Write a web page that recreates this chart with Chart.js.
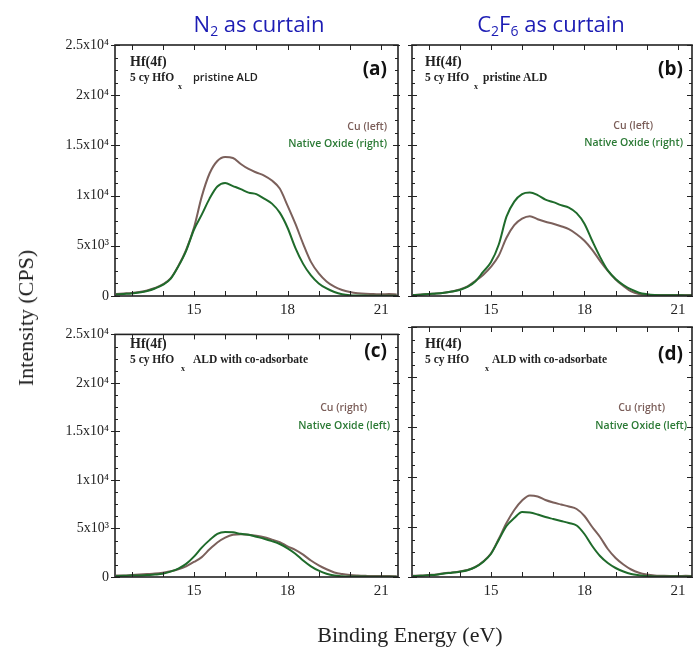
<!DOCTYPE html>
<html>
<head>
<meta charset="utf-8">
<script src="https://cdn.jsdelivr.net/npm/chart.js@4.4.1/dist/chart.umd.min.js"></script>
<style>
  body { margin: 0; background: #fff; }
  #wrap { position: relative; width: 693px; height: 647px; overflow: hidden; background: #fff; }
  canvas { position: absolute; }
  .t { position: absolute; white-space: nowrap; line-height: 1; }
  .head { font-family: "Open Sans", sans-serif; font-size: 22px; color: #1c1cb4; transform: translate(-50%, -50%); }
  .head sub { font-size: 14px; vertical-align: -4px; }
  .hf { font-family: "Liberation Serif", serif; font-weight: bold; font-size: 14px; color: #222; }
  .cy { font-family: "Liberation Serif", serif; font-weight: bold; font-size: 11.5px; color: #222; }
  .sx { font-family: "Liberation Serif", serif; font-weight: bold; font-size: 8px; color: #222; }
  .san { font-family: "Open Sans", sans-serif; font-weight: 600; font-size: 11px; color: #222; }
  .tag { font-family: "Open Sans", sans-serif; font-weight: bold; font-size: 19px; color: #111; }
  .cu { font-family: "Open Sans", sans-serif; font-weight: 600; font-size: 10.5px; color: #7b5e59; }
  .ox { font-family: "Open Sans", sans-serif; font-weight: 600; font-size: 10.5px; color: #2b7a35; }
  .axt { font-family: "Liberation Serif", serif; font-size: 22px; color: #222; }
</style>
</head>
<body>
<div id="wrap">
  <canvas id="pa" width="400" height="320" style="left:0;top:0"></canvas>
  <canvas id="pb" width="293" height="320" style="left:400px;top:0"></canvas>
  <canvas id="pc" width="400" height="327" style="left:0;top:320px"></canvas>
  <canvas id="pd" width="293" height="327" style="left:400px;top:320px"></canvas>

  <div class="t head" style="left:259px;top:25px">N<sub>2</sub> as curtain</div>
  <div class="t head" style="left:551px;top:25px">C<sub>2</sub>F<sub>6</sub> as curtain</div>

  <!-- (a) -->
  <div class="t hf" style="left:130px;top:55px">Hf(4f)</div>
  <div class="t cy" style="left:130px;top:72px">5 cy HfO</div>
  <div class="t sx" style="left:178px;top:83px">x</div>
  <div class="t san" style="left:193px;top:71px">pristine ALD</div>
  <div class="t tag" style="right:306px;top:59px">(a)</div>
  <div class="t cu" style="right:306px;top:121px">Cu (left)</div>
  <div class="t ox" style="right:306px;top:138px">Native Oxide (right)</div>

  <!-- (b) -->
  <div class="t hf" style="left:425px;top:55px">Hf(4f)</div>
  <div class="t cy" style="left:425px;top:72px">5 cy HfO</div>
  <div class="t sx" style="left:474px;top:83px">x</div>
  <div class="t cy" style="left:483px;top:72px">pristine ALD</div>
  <div class="t tag" style="right:10px;top:59px">(b)</div>
  <div class="t cu" style="right:40px;top:120px">Cu (left)</div>
  <div class="t ox" style="right:10px;top:137px">Native Oxide (right)</div>

  <!-- (c) -->
  <div class="t hf" style="left:130px;top:337px">Hf(4f)</div>
  <div class="t cy" style="left:130px;top:354px">5 cy HfO</div>
  <div class="t sx" style="left:181px;top:365px">x</div>
  <div class="t cy" style="left:193px;top:354px">ALD with co-adsorbate</div>
  <div class="t tag" style="right:306px;top:341px">(c)</div>
  <div class="t cu" style="right:326px;top:402px">Cu (right)</div>
  <div class="t ox" style="right:303px;top:420px">Native Oxide (left)</div>

  <!-- (d) -->
  <div class="t hf" style="left:425px;top:337px">Hf(4f)</div>
  <div class="t cy" style="left:425px;top:354px">5 cy HfO</div>
  <div class="t sx" style="left:485px;top:365px">x</div>
  <div class="t cy" style="left:492px;top:354px">ALD with co-adsorbate</div>
  <div class="t tag" style="right:10px;top:344px">(d)</div>
  <div class="t cu" style="right:28px;top:402px">Cu (right)</div>
  <div class="t ox" style="right:6px;top:420px">Native Oxide (left)</div>

  <div class="t axt" style="left:26px;top:318px;transform:translate(-50%,-50%) rotate(-90deg)">Intensity (CPS)</div>
  <div class="t axt" style="left:410px;top:635px;transform:translate(-50%,-50%)">Binding Energy (eV)</div>
</div>

<script>
// Binding energy (eV), shared by all panels
const energy = [12.5, 12.75, 13, 13.25, 13.5, 13.75, 14, 14.25, 14.5, 14.75, 15, 15.25, 15.5, 15.75,
  16, 16.25, 16.5, 16.75, 17, 17.25, 17.5, 17.75, 18, 18.25, 18.5, 18.75, 19, 19.25, 19.5, 19.75,
  20, 20.25, 20.5, 20.75, 21, 21.25, 21.5];

// (a) N2 curtain, pristine ALD
const cuA = [200, 250, 300, 400, 550, 800, 1150, 1750, 3000, 4600, 6800, 9900, 12200, 13450,
  13850, 13750, 13150, 12650, 12300, 12000, 11500, 10700, 9000, 7200, 5200, 3400, 2250, 1450, 930, 600,
  400, 280, 220, 200, 170, 200, 160];
const oxA = [150, 200, 250, 350, 500, 750, 1100, 1700, 2950, 4500, 6600, 8100, 9700, 10900,
  11250, 10950, 10650, 10300, 10150, 9700, 9200, 8300, 6800, 4800, 3200, 2050, 1250, 750, 400, 180,
  80, 50, 40, 30, 30, 30, 30];

// (b) C2F6 curtain, pristine ALD
const cuB = [100, 150, 200, 250, 330, 450, 650, 950, 1500, 2100, 2900, 4000, 5800, 7050,
  7700, 7950, 7650, 7400, 7200, 6950, 6650, 6150, 5500, 4600, 3500, 2500, 1650, 1000, 450, 200,
  120, 100, 100, 90, 90, 100, 80];
const oxB = [100, 130, 200, 250, 330, 450, 600, 900, 1450, 2400, 3350, 5100, 7900, 9400,
  10150, 10300, 10050, 9600, 9350, 9050, 8800, 8250, 7200, 5500, 3900, 2550, 1700, 1100, 650, 330,
  180, 100, 80, 70, 70, 60, 60];

// (c) N2 curtain, ALD with co-adsorbate
const cuC = [150, 150, 200, 250, 300, 350, 450, 600, 800, 1100, 1550, 2050, 2850, 3550,
  4050, 4350, 4400, 4350, 4250, 4100, 3850, 3600, 3150, 2800, 2300, 1700, 1200, 800, 470, 300,
  200, 150, 120, 100, 100, 100, 80];
const oxC = [100, 120, 150, 150, 200, 250, 330, 550, 870, 1350, 2100, 3030, 3800, 4450,
  4650, 4600, 4450, 4350, 4150, 3950, 3700, 3400, 2950, 2400, 1700, 1100, 650, 330, 150, 80,
  50, 40, 40, 30, 30, 30, 30];

// (d) C2F6 curtain, ALD with co-adsorbate
const cuD = [120, 150, 200, 250, 370, 450, 550, 700, 1000, 1550, 2350, 3800, 5400, 6700,
  7650, 8150, 8050, 7700, 7450, 7250, 7050, 6800, 6100, 5000, 4000, 2800, 1900, 1250, 750, 430,
  250, 150, 120, 100, 100, 120, 100];
const oxD = [100, 130, 180, 230, 350, 430, 530, 680, 980, 1500, 2300, 3700, 5100, 5900,
  6500, 6450, 6250, 6000, 5800, 5600, 5400, 5150, 4300, 3100, 2100, 1400, 900, 550, 300, 180,
  100, 60, 50, 40, 40, 40, 40];

const xTickValues = [15, 18, 21];
const yTickValues = [0, 5000, 10000, 15000, 20000, 25000];
const yTickLabels = ["0", "5x10\u00B3", "1x10\u2074", "1.5x10\u2074", "2x10\u2074", "2.5x10\u2074"];

const cuColor = "#7b605b";
const oxColor = "#1f6b2b";

// cadre + graduations intérieures
const framePlugin = {
  id: "frame",
  afterDatasetsDraw(chart) {
    const { ctx, chartArea: a, scales } = chart;
    const x = scales.x, y = scales.y;
    ctx.save();
    ctx.strokeStyle = "#222";
    ctx.lineWidth = 1;
    ctx.beginPath();
    for (let e = 13; e <= 21; e++) {
      const px = Math.round(x.getPixelForValue(e)) + 0.5;
      if (px > a.right - 1) continue;
      ctx.moveTo(px, a.bottom); ctx.lineTo(px, a.bottom - 5);
      ctx.moveTo(px, a.top); ctx.lineTo(px, a.top + 5);
    }
    for (let v = 0; v <= 25000; v += 1250) {
      const py = Math.round(y.getPixelForValue(v)) + 0.5;
      const major = v % 5000 === 0;
      ctx.moveTo(a.left - (major ? 4 : 0), py); ctx.lineTo(a.left + (major ? 5 : 3), py);
      ctx.moveTo(a.right + (major ? 4 : 0), py); ctx.lineTo(a.right - (major ? 5 : 3), py);
    }
    ctx.stroke();
    ctx.lineWidth = 1.6;
    ctx.strokeRect(a.left, a.top, a.right - a.left, a.bottom - a.top);
    ctx.restore();
  }
};

function makePanel(id, cu, ox, opts) {
  new Chart(document.getElementById(id), {
    type: "line",
    data: {
      datasets: [
        { data: energy.map((e, i) => ({ x: e, y: ox[i] })), borderColor: oxColor },
        { data: energy.map((e, i) => ({ x: e, y: cu[i] })), borderColor: cuColor }
      ]
    },
    options: {
      responsive: false,
      animation: false,
      devicePixelRatio: 1,
      layout: { padding: { top: opts.top, right: opts.right, left: 0, bottom: 0 } },
      elements: {
        point: { radius: 0 },
        line: { borderWidth: 2, cubicInterpolationMode: "monotone" }
      },
      plugins: { legend: { display: false }, tooltip: { enabled: false } },
      scales: {
        x: {
          type: "linear",
          min: 12.47,
          max: opts.xmax,
          grid: { display: false, drawTicks: false },
          border: { display: false },
          afterBuildTicks: (s) => { s.ticks = xTickValues.map(v => ({ value: v })); },
          afterFit: (s) => { s.height = opts.xh; },
          ticks: {
            padding: 5,
            maxRotation: 0,
            color: "#222",
            font: { family: "Liberation Serif", size: 15 },
            callback: (v) => String(v)
          }
        },
        y: {
          min: 0,
          max: 25000,
          grid: { display: false, drawTicks: false },
          border: { display: false },
          afterBuildTicks: (s) => { s.ticks = yTickValues.map(v => ({ value: v })); },
          afterFit: (s) => { s.width = opts.yw; },
          ticks: {
            display: opts.showY,
            padding: 6,
            color: "#222",
            font: { family: "Liberation Serif", size: 14 },
            callback: (v) => yTickLabels[yTickValues.indexOf(v)]
          }
        }
      }
    },
    plugins: [framePlugin]
  });
}

makePanel("pa", cuA, oxA, { top: 45, right: 2, yw: 115, xh: 24, xmax: 21.54, showY: true });
makePanel("pb", cuB, oxB, { top: 45, right: 1, yw: 12, xh: 24, xmax: 21.45, showY: false });
makePanel("pc", cuC, oxC, { top: 7, right: 2, yw: 115, xh: 70, xmax: 21.54, showY: true });
makePanel("pd", cuD, oxD, { top: 7, right: 1, yw: 12, xh: 70, xmax: 21.45, showY: false });
</script>
</body>
</html>
